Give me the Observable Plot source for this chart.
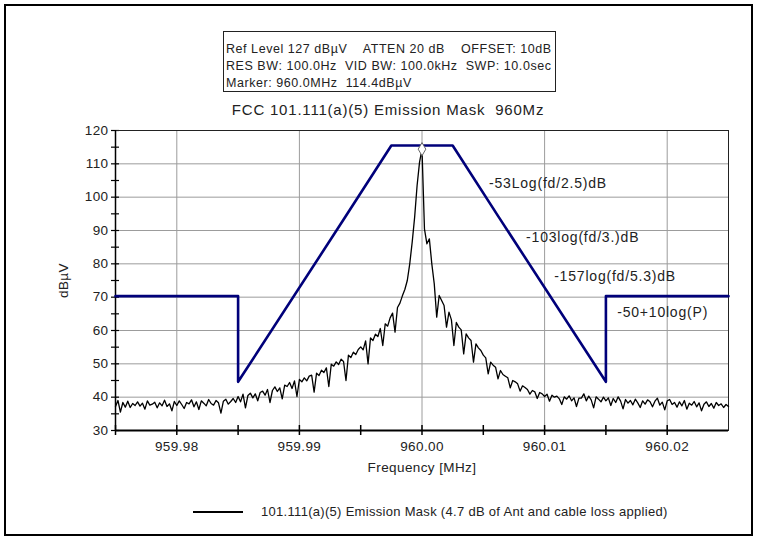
<!DOCTYPE html>
<html>
<head>
<meta charset="utf-8">
<script src="https://cdn.jsdelivr.net/npm/d3@7"></script>
<script src="https://cdn.jsdelivr.net/npm/@observablehq/plot@0.6"></script>
<style>
  body { margin: 0; background: #fff; }
  #wrap { position: relative; width: 763px; height: 544px; font-family: "Liberation Sans", Arial, sans-serif; color: #222; overflow: hidden; }
  #frame { position: absolute; left: 4px; top: 4px; width: 749px; height: 532px; border: 2px solid #000; box-sizing: border-box; pointer-events: none; }
  #hdr { position: absolute; left: 223px; top: 31px; width: 333px; height: 61px; border: 1px solid #222; background: #fff; box-sizing: border-box; }
  .hl { position: absolute; left: 2px; font-size: 12.5px; letter-spacing: 0.55px; white-space: pre; line-height: 14px; }
  #title { position: absolute; left: 0; width: 776px; top: 102px; text-align: center; font-size: 15px; letter-spacing: 0.8px; white-space: pre; line-height: 16px; }
  #legend { position: absolute; left: 193px; top: 503px; height: 18px; white-space: pre; }
  #legline { position: absolute; left: 0; top: 8px; width: 50px; height: 2px; background: #000; }
  #legtext { position: absolute; left: 68px; top: 1px; font-size: 13px; letter-spacing: 0.3px; line-height: 16px; }
  #chart { position: absolute; left: 0; top: 0; }
  #chart svg text { letter-spacing: 0.4px; }
  #chart svg g.annot text { letter-spacing: 0.8px; }
</style>
</head>
<body>
<div id="wrap">
  <div id="chart"></div>
  <div id="hdr"></div>
  <div id="title"></div>
  <div id="legend"><div id="legline"></div><div id="legtext"></div></div>
  <div id="frame"></div>
</div>
<script>
// ---- text ----
const headerLines = [
  "Ref Level 127 dB\u00b5V    ATTEN 20 dB    OFFSET: 10dB",
  "RES BW: 100.0Hz  VID BW: 100.0kHz  SWP: 10.0sec",
  "Marker: 960.0MHz  114.4dB\u00b5V"
];
const chartTitle = "FCC 101.111(a)(5) Emission Mask  960Mz";
const legendLabel = "101.111(a)(5) Emission Mask (4.7 dB of Ant and cable loss applied)";
const xLabel = "Frequency [MHz]";
const yLabel = "dB\u00b5V";

// ---- axes ----
const xDomain = [959.975, 960.025];
const yDomain = [30, 120];
const xMajorTicks = [959.98, 959.99, 960.00, 960.01, 960.02];
const xAllTicks = [959.975, 959.98, 959.985, 959.99, 959.995, 960.00, 960.005, 960.01, 960.015, 960.02];
const yMajorTicks = [30, 40, 50, 60, 70, 80, 90, 100, 110, 120];
const yAllTicks = [30, 35, 40, 45, 50, 55, 60, 65, 70, 75, 80, 85, 90, 95, 100, 105, 110, 115, 120];

// ---- emission mask (MHz, dBuV) ----
const maskFreq = [959.975, 959.985, 959.985, 959.99375, 959.9975,
                  960.0025, 960.00625, 960.015, 960.015, 960.025];
const maskDb   = [70.3, 70.3, 44.6, 94.1, 115.5,
                  115.5, 94.1, 44.6, 70.3, 70.3];

// ---- measured trace: sweep start, step (MHz) and level readings (dBuV) ----
const traceStart = 959.975;
const traceStep = 0.0002;
const traceDb = [
  37.2, 39.0, 35.5, 38.4, 37.0, 38.8, 36.9, 38.1, 37.5, 38.6,
  37.3, 38.2, 36.4, 38.9, 37.6, 37.9, 38.5, 36.8, 38.3, 37.4,
  39.1, 37.2, 38.0, 35.9, 38.7, 37.5, 38.9, 37.8, 36.6, 38.4,
  38.0, 39.2, 37.1, 38.6, 36.3, 38.9, 38.2, 37.4, 39.3, 38.1,
  37.6, 39.0, 38.3, 35.2, 38.8, 39.4, 37.9, 38.7, 39.6, 38.4,
  40.2, 38.6, 40.9, 36.8, 40.5, 41.2, 39.8, 41.0, 38.9, 41.4,
  41.8, 40.6, 42.3, 38.4, 42.0, 43.1, 41.7, 42.8, 39.5, 43.6,
  43.2, 44.4, 42.6, 44.9, 40.2, 45.3, 44.6, 45.8, 44.9, 46.3,
  46.6, 41.5, 47.2, 46.5, 48.1, 47.4, 48.8, 43.2, 49.9, 49.3,
  50.6, 49.8, 51.4, 50.7, 45.0, 52.6, 51.9, 53.5, 52.8, 54.3,
  55.1, 54.2, 56.9, 50.0, 57.8, 57.0, 58.9, 58.2, 60.6, 55.5,
  62.0, 61.3, 63.8, 65.2, 59.5, 66.9, 68.2, 70.4, 72.3, 75.0,
  80.0, 86.5, 94.0, 103.5, 110.5,
  114.4,
  90.5, 86.0, 87.5, 80.0,
  74.0, 64.0, 70.5, 69.0, 67.5, 61.0, 65.5, 63.2, 55.5, 62.4,
  61.0, 60.2, 53.0, 59.0, 57.8, 57.0, 50.5, 56.0, 54.8, 54.0,
  52.6, 51.8, 47.0, 50.5, 49.6, 49.0, 45.5, 48.0, 46.8, 46.3,
  45.8, 42.8, 45.0, 44.6, 44.0, 41.8, 43.4, 42.9, 42.3, 40.9,
  42.0, 41.6, 39.6, 41.4, 41.0, 40.2, 40.9, 38.8, 40.6, 40.0,
  40.3, 39.5, 37.8, 40.1, 39.4, 40.4, 38.9, 39.8, 37.2, 39.7,
  39.7, 41.0, 38.9, 40.3, 39.2, 36.8, 40.1, 39.4, 38.6, 40.0,
  38.9, 39.8, 37.5, 39.6, 38.4, 40.1, 38.8, 36.5, 39.3, 38.2,
  39.0, 37.7, 39.4, 38.3, 36.9, 38.9, 37.9, 39.2, 38.6, 37.1,
  38.8, 39.7, 37.6, 38.5, 36.2, 38.9, 39.3, 37.8, 38.4, 37.0,
  38.6, 37.4, 39.0, 36.4, 38.2, 37.6, 38.7, 37.1, 38.3, 35.9,
  37.9, 38.6, 37.2, 38.1, 36.7, 38.4, 37.5, 38.0, 36.9, 37.8,
  37.2
];

// ---- marker ----
const markerFreq = [960.0];
const markerDb = [114.4];

// ---- annotations (anchor at left edge of text) ----
const annotText = ["-53Log(fd/2.5)dB", "-103log(fd/3.)dB", "-157log(fd/5.3)dB", "-50+10log(P)"];
const annotFreq = [960.00547, 960.00849, 960.01078, 960.01592];
const annotDb   = [104.1, 87.9, 76.2, 65.4];

// ---- build tables ----
const trace = traceDb.map((v, i) => ({f: traceStart + i * traceStep, db: v}));
const mask = maskFreq.map((f, i) => ({f, db: maskDb[i]}));
const marker = markerFreq.map((f, i) => ({f, db: markerDb[i]}));
const annots = annotText.map((t, i) => ({t, f: annotFreq[i], db: annotDb[i]}));

const hdr = document.getElementById("hdr");
headerLines.forEach((s, i) => {
  const d = document.createElement("div");
  d.className = "hl";
  d.style.top = (10 + i * 17) + "px";
  d.textContent = s;
  hdr.appendChild(d);
});
document.getElementById("title").textContent = chartTitle;
document.getElementById("legtext").textContent = legendLabel;

const chart = Plot.plot({
  width: 763,
  height: 544,
  marginLeft: 115,
  marginRight: 35,
  marginTop: 130,
  marginBottom: 114,
  style: {fontFamily: "'Liberation Sans', Arial, sans-serif", fontSize: "13.5px", color: "#222", background: "transparent"},
  x: {domain: xDomain},
  y: {domain: yDomain},
  marks: [
    Plot.gridX(xMajorTicks, {stroke: "#9c9c9c", strokeOpacity: 1}),
    Plot.gridY(yMajorTicks, {stroke: "#9c9c9c", strokeOpacity: 1}),
    Plot.axisX(xMajorTicks, {tickSize: 0, tickPadding: 11, tickFormat: d => d.toFixed(2),
      label: xLabel, labelAnchor: "center", labelOffset: 41, labelArrow: "none"}),
    Plot.axisY(yMajorTicks, {tickSize: 0, tickPadding: 7,
      label: yLabel, labelAnchor: "center", labelOffset: 57, labelArrow: "none"}),
    Plot.ruleX(xAllTicks, {x: d => d, y1: yDomain[0], y2: yDomain[0], insetTop: -5, insetBottom: -5, stroke: "#000", strokeWidth: 1.5}),
    Plot.ruleY(yAllTicks, {y: d => d, x1: xDomain[0], x2: xDomain[0], insetLeft: -4, insetRight: -4, stroke: "#000", strokeWidth: 1.2}),
    Plot.frame({stroke: "#222"}),
    Plot.ruleY([yDomain[0]], {stroke: "#000", strokeWidth: 2}),
    Plot.ruleX([xDomain[0]], {stroke: "#000", strokeWidth: 1.5}),
    Plot.line(mask, {x: "f", y: "db", stroke: "#00007a", strokeWidth: 2.6}),
    Plot.line(trace, {x: "f", y: "db", stroke: "#000", strokeWidth: 1.3}),
    Plot.dot(marker, {x: "f", y: "db", symbol: "diamond", r: 4, fill: "#fff", stroke: "#666", strokeWidth: 1}),
    Plot.text(annots, {x: "f", y: "db", text: "t", textAnchor: "start", fontSize: 14, fill: "#222", className: "annot"})
  ]
});
document.getElementById("chart").appendChild(chart);
</script>
</body>
</html>
